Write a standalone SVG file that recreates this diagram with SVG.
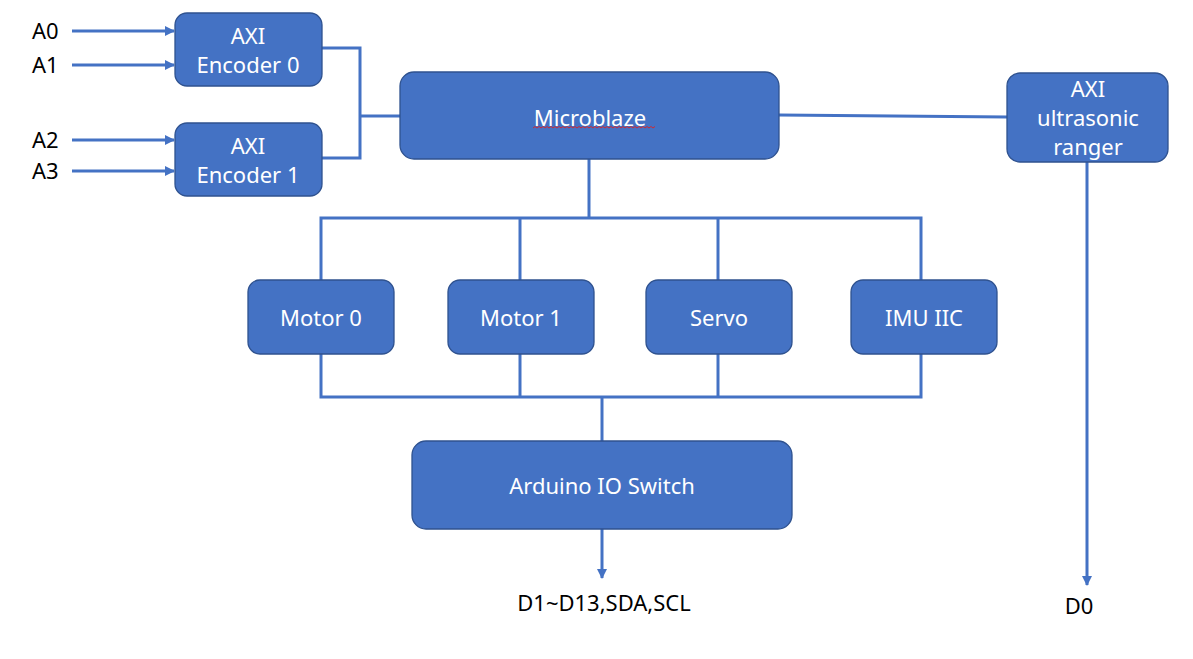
<svg xmlns="http://www.w3.org/2000/svg" width="1193" height="659" viewBox="0 0 1193 659">
<style>
.box{fill:#4472C4;stroke:#2F528F;stroke-width:1.3}
.lbl{font-family:"Noto Sans","Open Sans","Liberation Sans",sans-serif;font-size:22px;fill:#FFFFFF;text-anchor:middle}
.ext{font-family:"Noto Sans","Open Sans","Liberation Sans",sans-serif;font-size:22px;fill:#000000}
.wire{fill:none;stroke:#4472C4;stroke-width:3}
</style>
<defs>
<marker id="ah" viewBox="0 0 10 10" refX="9" refY="5" markerWidth="10" markerHeight="10" markerUnits="userSpaceOnUse" orient="auto">
<path d="M0,0 L10,5 L0,10 z" fill="#4472C4"/>
</marker>
</defs>
<rect width="1193" height="659" fill="#FFFFFF"/>
<g id="connectors">
<line class="wire" x1="72" y1="31" x2="174" y2="31" marker-end="url(#ah)"/>
<line class="wire" x1="72" y1="65" x2="174" y2="65" marker-end="url(#ah)"/>
<line class="wire" x1="72" y1="140" x2="174" y2="140" marker-end="url(#ah)"/>
<line class="wire" x1="72" y1="171" x2="174" y2="171" marker-end="url(#ah)"/>
<polyline class="wire" points="322,48 360,48 360,158 322,158"/>
<line class="wire" x1="360" y1="116" x2="400" y2="116"/>
<line class="wire" x1="779" y1="115" x2="1007" y2="117"/>
<line class="wire" x1="1087" y1="162" x2="1087" y2="585" marker-end="url(#ah)"/>
<line class="wire" x1="589" y1="159" x2="589" y2="218"/>
<polyline class="wire" points="321,280 321,218 921,218 921,280"/>
<line class="wire" x1="520" y1="218" x2="520" y2="280"/>
<line class="wire" x1="718" y1="218" x2="718" y2="280"/>
<polyline class="wire" points="321,354 321,397 921,397 921,354"/>
<line class="wire" x1="520" y1="354" x2="520" y2="397"/>
<line class="wire" x1="718" y1="354" x2="718" y2="397"/>
<line class="wire" x1="602" y1="397" x2="602" y2="441"/>
<line class="wire" x1="602" y1="529" x2="602" y2="578" marker-end="url(#ah)"/>
</g>
<g id="labels">
<text class="ext" x="32" y="39">A0</text>
<text class="ext" x="32" y="73">A1</text>
<text class="ext" x="32" y="148">A2</text>
<text class="ext" x="32" y="179">A3</text>
<text class="ext" x="604" y="611" text-anchor="middle">D1~D13,SDA,SCL</text>
<text class="ext" x="1079" y="614" text-anchor="middle">D0</text>
</g>
<g id="enc0">
<rect class="box" x="175" y="13" width="147" height="73" rx="12"/>
<text class="lbl" x="248" y="44">AXI</text>
<text class="lbl" x="248" y="73">Encoder 0</text>
</g>
<g id="enc1">
<rect class="box" x="175" y="123" width="147" height="73" rx="12"/>
<text class="lbl" x="248" y="154">AXI</text>
<text class="lbl" x="248" y="183">Encoder 1</text>
</g>
<g id="microblaze">
<rect class="box" x="400" y="72" width="379" height="87" rx="14"/>
<text class="lbl" x="590" y="126">Microblaze</text>
<path d="M533,128 l2,-1.5 l2,1.5 l2,-1.5 l2,1.5 l2,-1.5 l2,1.5 l2,-1.5 l2,1.5 l2,-1.5 l2,1.5 l2,-1.5 l2,1.5 l2,-1.5 l2,1.5 l2,-1.5 l2,1.5 l2,-1.5 l2,1.5 l2,-1.5 l2,1.5 l2,-1.5 l2,1.5 l2,-1.5 l2,1.5 l2,-1.5 l2,1.5 l2,-1.5 l2,1.5 l2,-1.5 l2,1.5 l2,-1.5 l2,1.5 l2,-1.5 l2,1.5 l2,-1.5 l2,1.5 l2,-1.5 l2,1.5 l2,-1.5 l2,1.5 l2,-1.5 l2,1.5 l2,-1.5 l2,1.5 l2,-1.5 l2,1.5 l2,-1.5 l2,1.5 l2,-1.5 l2,1.5 l2,-1.5 l2,1.5 l2,-1.5 l2,1.5 l2,-1.5 l2,1.5 l2,-1.5 l2,1.5 l2,-1.5 l2,1.5 l2,-1.5" fill="none" stroke="#E02020" stroke-width="0.9"/>
</g>
<g id="ultrasonic">
<rect class="box" x="1007" y="73" width="161" height="89" rx="13"/>
<text class="lbl" x="1088" y="97">AXI</text>
<text class="lbl" x="1088" y="126">ultrasonic</text>
<text class="lbl" x="1088" y="155">ranger</text>
</g>
<g id="motor0">
<rect class="box" x="248" y="280" width="146" height="74" rx="12"/>
<text class="lbl" x="321" y="326">Motor 0</text>
</g>
<g id="motor1">
<rect class="box" x="448" y="280" width="146" height="74" rx="12"/>
<text class="lbl" x="521" y="326">Motor 1</text>
</g>
<g id="servo">
<rect class="box" x="646" y="280" width="146" height="74" rx="12"/>
<text class="lbl" x="719" y="326">Servo</text>
</g>
<g id="imu">
<rect class="box" x="851" y="280" width="146" height="74" rx="12"/>
<text class="lbl" x="924" y="326">IMU IIC</text>
</g>
<g id="arduino">
<rect class="box" x="412" y="441" width="380" height="88" rx="14"/>
<text class="lbl" x="602" y="494">Arduino IO Switch</text>
</g>
</svg>
